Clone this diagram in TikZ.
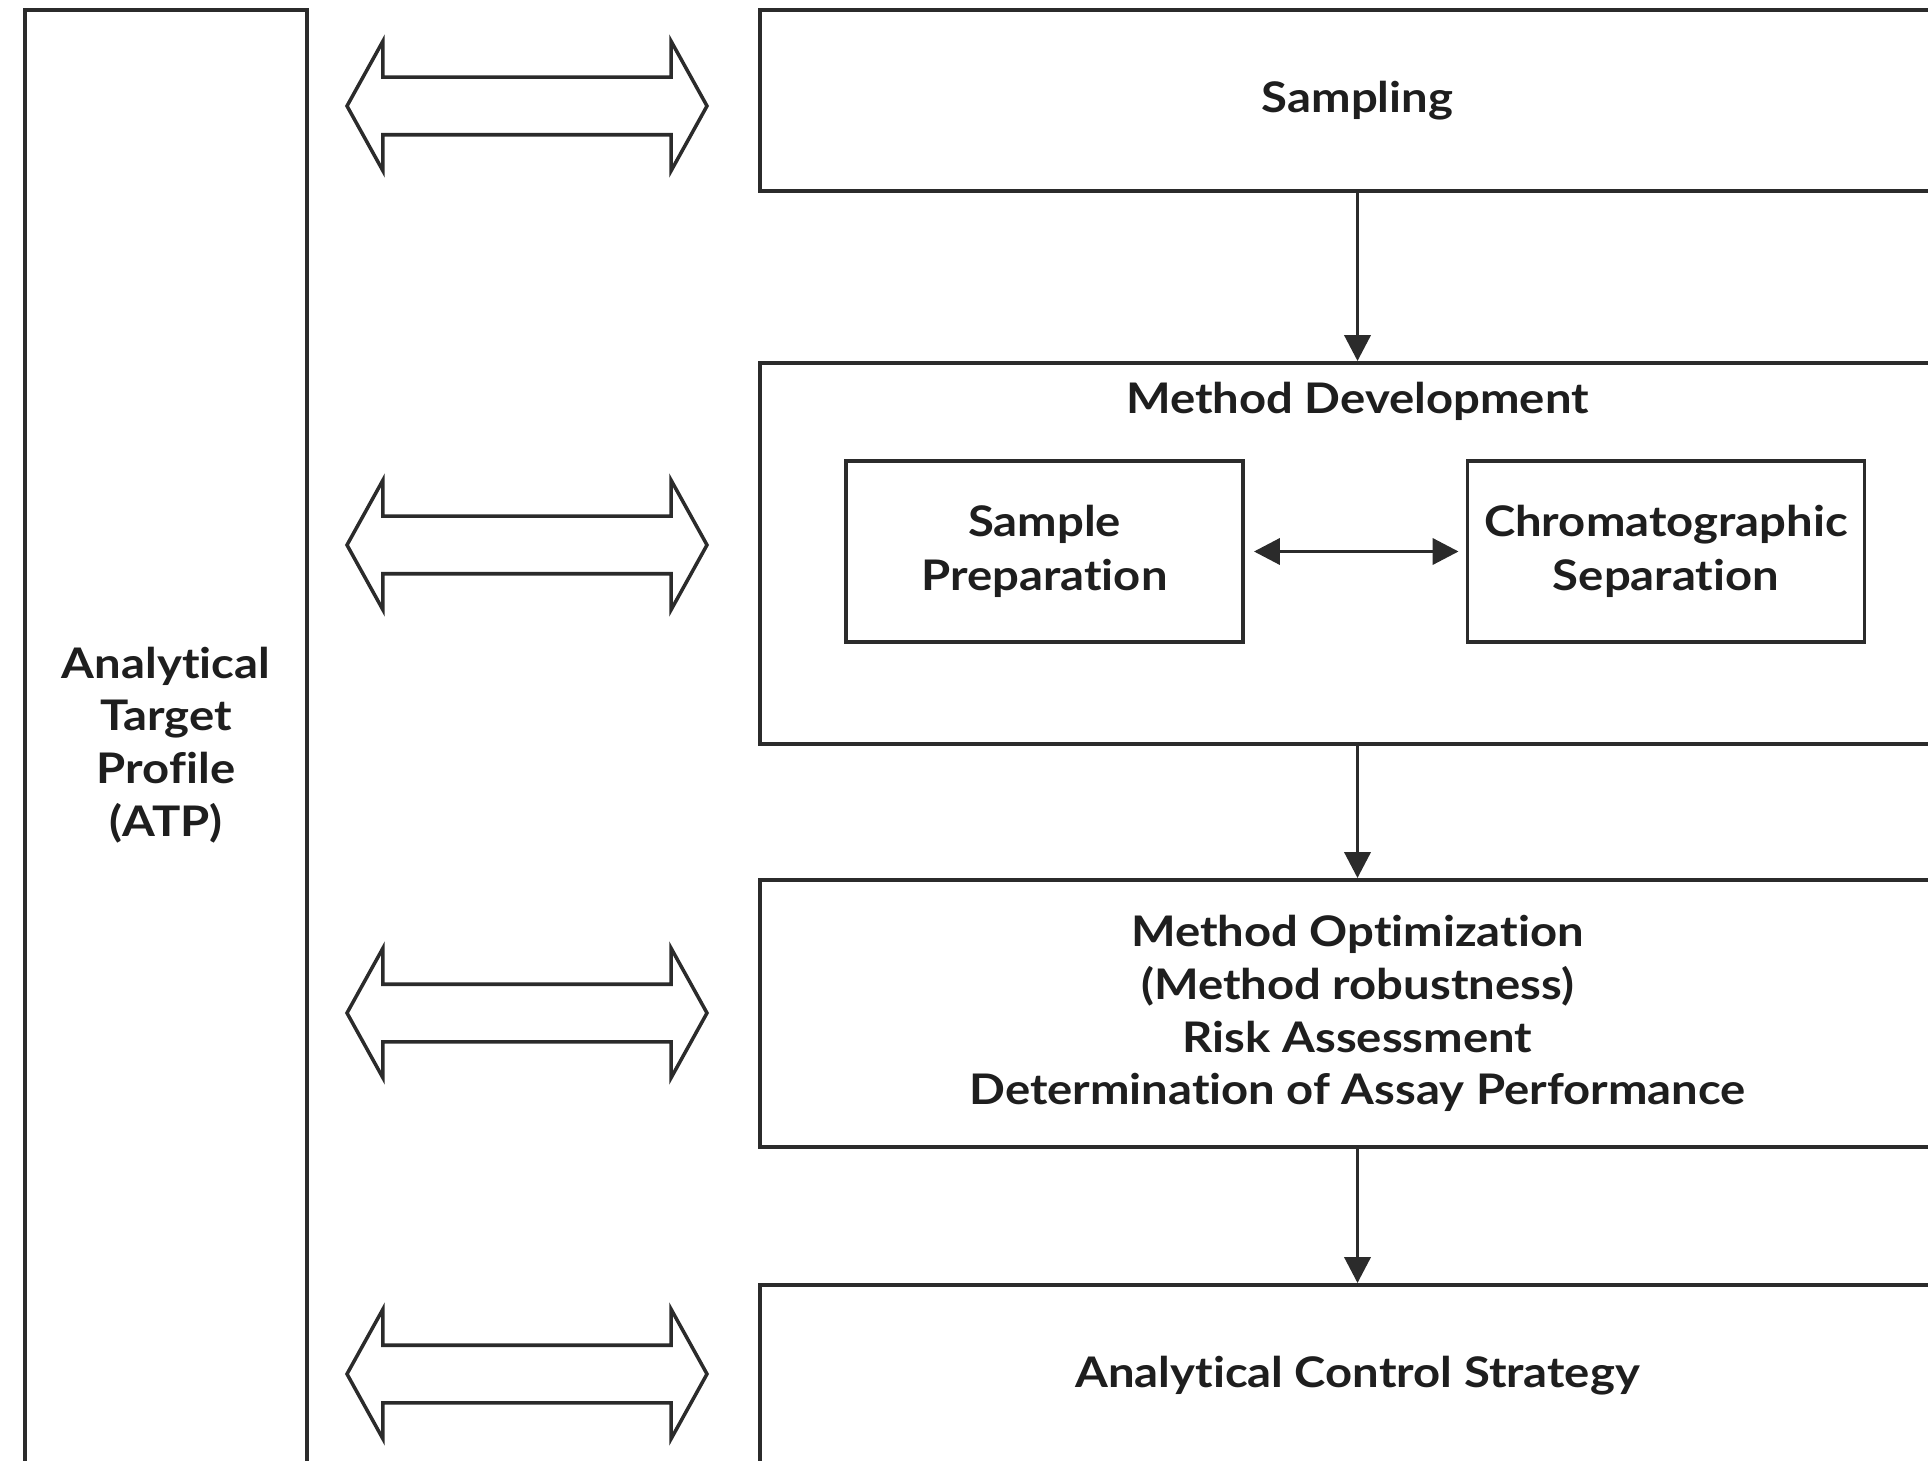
\documentclass[tikz,border=0pt]{standalone}
\usepackage{fontspec}
\setmainfont{Lato}[FakeStretch=1.12, Ligatures=NoCommon]
\usetikzlibrary{shapes.arrows, arrows.meta, positioning}
\definecolor{qbdline}{HTML}{2B2B2B}
\definecolor{qbdtext}{HTML}{1E1E1E}

\begin{document}
\begin{tikzpicture}[
  stage/.style={draw=qbdline, line width=1.1pt, minimum width=11.95cm, align=center, font=\fontsize{12}{15}\selectfont\bfseries, text=qbdtext, inner sep=0pt},
  sub/.style={draw=qbdline, line width=1.1pt, minimum width=3.97cm, minimum height=1.81cm, align=center, font=\fontsize{12}{15.5}\selectfont\bfseries, text=qbdtext, inner sep=0pt},
  heading/.style={font=\fontsize{12}{15}\selectfont\bfseries, text=qbdtext, inner sep=0pt},
  band/.style={double arrow, draw=qbdline, line width=1pt, minimum height=3.6cm, minimum width=0pt, inner xsep=0pt, inner ysep=0.27cm, double arrow head extend=0.36cm, double arrow tip angle=122},
  flow/.style={draw=qbdline, line width=1.1pt, -{Triangle[length=2.6mm, width=2.6mm]}},
  link/.style={draw=qbdline, line width=1.1pt, {Triangle[length=2.6mm, width=2.6mm]}-{Triangle[length=2.6mm, width=2.6mm]}, shorten <=0.09cm, shorten >=0.07cm}
]
\useasboundingbox (0,0) rectangle (19.28,-14.61);
\clip (0,0) rectangle (19.28,-14.61);

% left column
\node[stage, minimum width=2.82cm, minimum height=14.7cm] (atp) at (1.66,-7.45) {Analytical\\Target\\Profile\\(ATP)};

% right column
\node[stage, minimum height=1.81cm] (samp) at (13.575,-1.005) {Sampling};
\node[stage, minimum height=3.81cm] (mdev) at (13.575,-5.535) {};
\node[heading] (mdevtitle) at ([yshift=-0.4cm]mdev.north) {Method Development};
\node[sub] (prep) at (10.445,-5.515) {Sample\\Preparation};
\node[sub] (chrom) at (16.66,-5.515) {Chromatographic\\Separation};
\node[stage, minimum height=2.67cm] (mopt) at (13.575,-10.135) {Method Optimization\\(Method robustness)\\Risk Assessment\\Determination of Assay Performance};
\node[stage, minimum height=1.82cm] (ctrl) at (13.575,-13.76) {Analytical Control Strategy};

% block arrows
\node[band] (ba1) at (5.27,-1.06) {};
\node[band] (ba2) at (5.27,-5.45) {};
\node[band] (ba3) at (5.27,-10.13) {};
\node[band] (ba4) at (5.27,-13.74) {};

% flow
\draw[flow] (samp) -- (mdev);
\draw[flow] (mdev) -- (mopt);
\draw[flow] (mopt) -- (ctrl);
\draw[link] (prep) -- (chrom);
\end{tikzpicture}
\end{document}
